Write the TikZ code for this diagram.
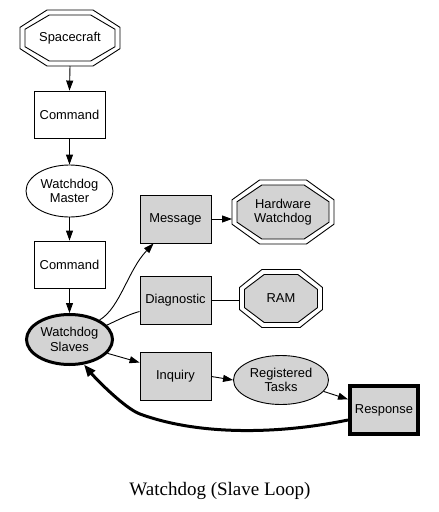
\documentclass[tikz,border=0pt]{standalone}
\usepackage{fontspec}
\setmainfont{Liberation Sans}
\newfontfamily\capfont{Liberation Serif}
\usetikzlibrary{arrows.meta,calc,shapes.geometric}
\definecolor{gvgray}{RGB}{211,211,211}
\newcommand{\lblfont}{\fontsize{12.9pt}{14.5pt}\selectfont}
% \octagon{cx}{cy}{w}{h}{style}
\newcommand{\octagon}[5]{%
  \path[#5] ({#1-0.23*#3},{#2-#4/2}) -- ({#1+0.23*#3},{#2-#4/2})
    -- ({#1+#3/2},{#2-0.19*#4}) -- ({#1+#3/2},{#2+0.19*#4})
    -- ({#1+0.23*#3},{#2+#4/2}) -- ({#1-0.23*#3},{#2+#4/2})
    -- ({#1-#3/2},{#2+0.19*#4}) -- ({#1-#3/2},{#2-0.19*#4}) -- cycle;}
\tikzset{
  gvline/.style={line width=0.9pt},
  boxnode/.style={draw, gvline, rectangle, minimum width=71pt, minimum height=47pt,
    inner sep=0pt, font=\lblfont, align=center},
  grayfill/.style={fill=gvgray},
  ellnode/.style={draw, gvline, ellipse, inner sep=0pt, font=\lblfont, align=center},
  octnode/.style={rectangle, inner sep=0pt, outer sep=0pt, font=\lblfont, align=center},
  octline/.style={draw, gvline},
  arr/.style={gvline, -{Triangle[length=10pt,width=7pt]}},
  plain/.style={gvline},
  thickarr/.style={line width=3pt, -{Triangle[length=12pt,width=9pt]}},
}
\begin{document}
\begin{tikzpicture}[x=1pt,y=-1pt]
\useasboundingbox[fill=white] (0,0) rectangle (439,512);

% octagon outlines (drawn first, text nodes on top)
\octagon{70}{38}{100}{56}{octline}
\octagon{70}{38}{90}{46}{octline}
\octagon{283}{212}{102}{64}{octline}
\octagon{283}{212}{92}{54}{octline,grayfill}
\octagon{281}{298.5}{83}{58}{octline}
\octagon{281}{298.5}{73}{48}{octline,grayfill}

% nodes
\node[octnode, minimum width=100pt, minimum height=56pt] (sc) at (70,38) {Spacecraft};
\node[boxnode] (cmd1) at (69.5,114.5) {Command};
\node[ellnode, minimum width=87pt, minimum height=52pt] (wm) at (69.5,191) {Watchdog\\Master};
\node[boxnode] (cmd2) at (69.5,264.5) {Command};
\node[ellnode, grayfill, line width=3pt, minimum width=86pt, minimum height=50pt] (ws) at (69.5,339.5) {Watchdog\\Slaves};
\node[boxnode, grayfill, minimum height=48pt] (msg) at (175.5,219) {Message};
\node[octnode, minimum width=102pt, minimum height=64pt] (hw) at (283,212) {Hardware\\Watchdog};
\node[boxnode, grayfill, minimum height=48pt] (diag) at (175.5,300.5) {Diagnostic};
\node[octnode, minimum width=83pt, minimum height=58pt] (ram) at (281,298.5) {RAM};
\node[boxnode, grayfill, minimum height=48pt] (inq) at (175.5,376.5) {Inquiry};
\node[ellnode, grayfill, minimum width=95pt, minimum height=49pt] (reg) at (281,380) {Registered\\Tasks};
\node[boxnode, grayfill, line width=4pt, minimum width=68pt, minimum height=48pt] (resp) at (384,410) {Response};
\node[font=\capfont\fontsize{19pt}{22pt}\selectfont, inner sep=0pt] (cap) at (220,491) {Watchdog (Slave Loop)};

% connectors
\draw[arr] (sc.south) -- (cmd1.north);
\draw[arr] (cmd1.south) -- (wm.north);
\draw[arr] (wm.south) -- (cmd2.north);
\draw[arr] (cmd2.south) -- (ws.north);
\draw[arr] (ws.33) .. controls (120,308) and (128,270) .. ([xshift=14pt]msg.south west);
\draw[plain] (ws.21) .. controls (122,318) and (130,314) .. ([yshift=-11pt]diag.west);
\draw[arr] (ws.-20) -- ([yshift=14pt]inq.west);
\draw[arr] (msg.east) -- (msg.east -| hw.west);
\draw[plain] (diag.east) -- (diag.east -| ram.west);
\draw[arr] (inq.east) -- (reg.west);
\draw[arr] (reg.-15) -- ([yshift=10.7pt]resp.west);
\draw[thickarr] ([yshift=-10pt]resp.west) .. controls (280,434) and (200,436) .. (140,414)
   .. controls (125,408.5) and (96,379) .. (ws.-60);
\end{tikzpicture}
\end{document}
